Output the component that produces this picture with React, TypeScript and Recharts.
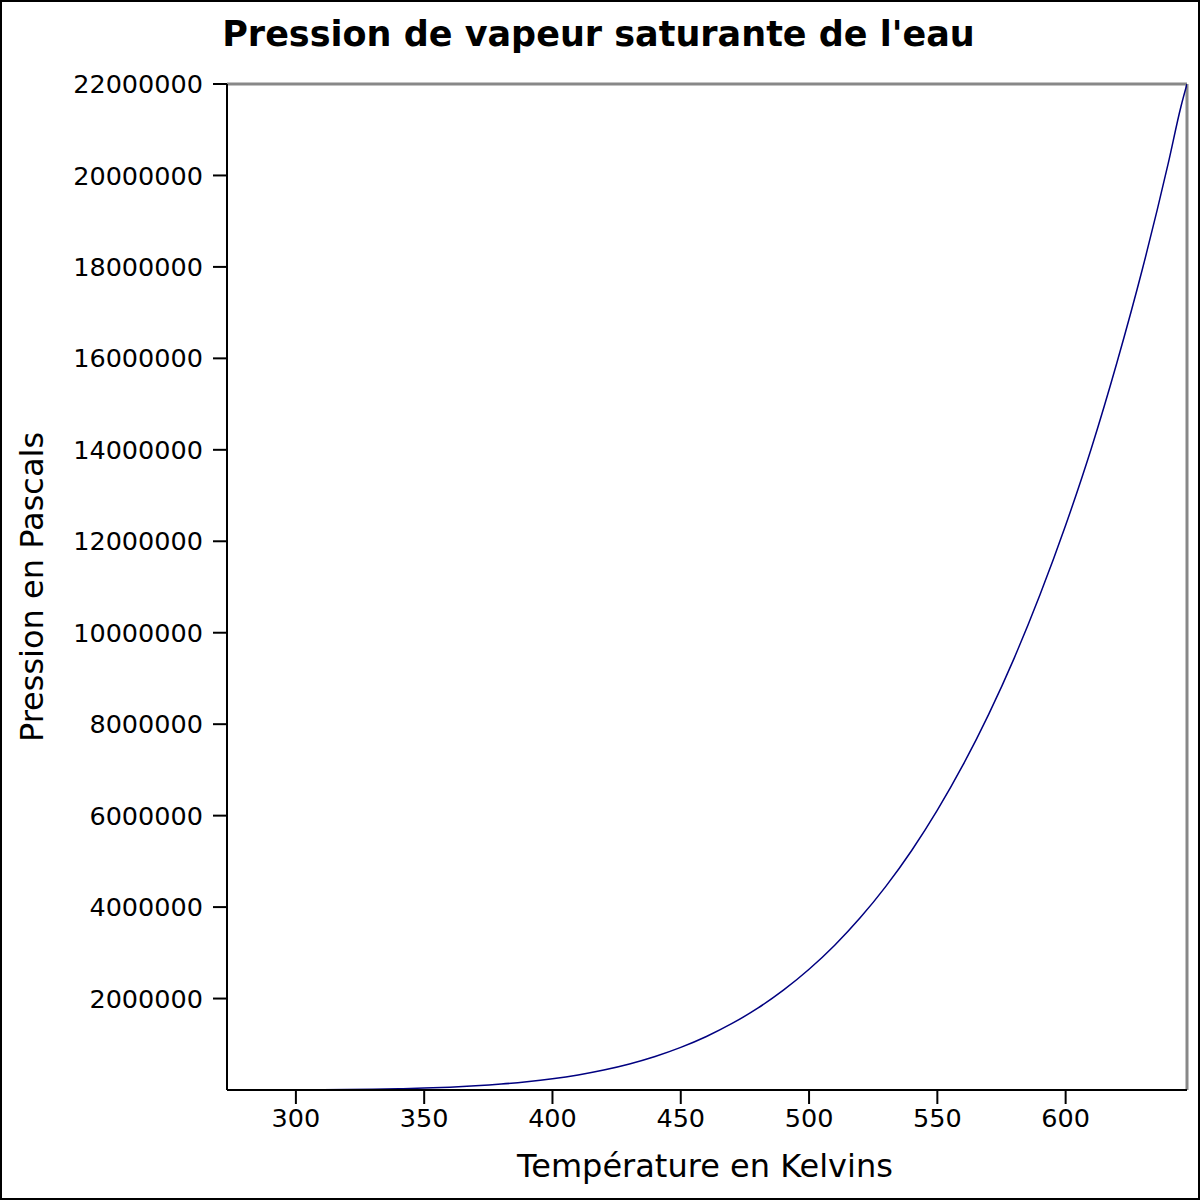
import * as React from "react"
import { LineChart, Line, XAxis, YAxis, ReferenceLine } from "recharts"

const FONT = "'DejaVu Sans', Verdana, sans-serif"

// température (K) et pression de vapeur saturante (Pa)
const temperatures = [
	273.16, 280, 290, 300, 310, 320, 330, 340, 350, 360, 370, 380, 390, 400, 410, 420, 430, 440,
	450, 460, 470, 480, 490, 500, 510, 520, 530, 540, 550, 560, 570, 580, 590, 600, 610, 620, 630,
	640, 645, 647.3,
]
const pressions = [
	612, 992, 1920, 3537, 6231, 10546, 17213, 27188, 41682, 62194, 90535, 128850, 179640, 245500,
	330200, 437000, 569900, 733300, 931900, 1171000, 1455000, 1790000, 2183000, 2640000, 3166000,
	3770000, 4458000, 5238000, 6119000, 7108000, 8216000, 9451000, 10830000, 12350000, 14030000,
	15910000, 17970000, 20270000, 21520000, 22000000,
]

const xTicks = [300, 350, 400, 450, 500, 550, 600]
const yTicks = [
	2000000, 4000000, 6000000, 8000000, 10000000, 12000000, 14000000, 16000000, 18000000,
	20000000, 22000000,
]

const data = temperatures.map((t, i) => ({ t, p: pressions[i] }))

export default function App() {
	return (
		<div style={{ position: "absolute", left: 0, top: 0, width: 1200, height: 1200, background: "#fff" }}>
			<LineChart
				width={1200}
				height={1200}
				data={data}
				margin={{ top: 84, right: 13, bottom: 0, left: 0 }}>
				<XAxis
					dataKey="t"
					type="number"
					domain={[273.15, 647.3]}
					ticks={xTicks}
					allowDataOverflow
					height={110}
					tickSize={14}
					tickMargin={5}
					stroke="#000"
					strokeWidth={2}
					tick={{ fontSize: 25.5, fill: "#000", fontFamily: FONT }}
					label={{
						content: () => (
							<text x={705} y={1177} textAnchor="middle" fontSize={32} fontFamily={FONT} fill="#000">
								Température en Kelvins
							</text>
						),
					}}
				/>
				<YAxis
					type="number"
					domain={[0, 22000000]}
					ticks={yTicks}
					allowDataOverflow
					width={227}
					tickSize={14}
					tickMargin={10}
					stroke="#000"
					strokeWidth={2}
					tick={{ fontSize: 25.5, fill: "#000", fontFamily: FONT }}
					label={{
						content: () => (
							<text
								x={43}
								y={587}
								transform="rotate(-90, 43, 587)"
								textAnchor="middle"
								fontSize={32}
								fontFamily={FONT}
								fill="#000">
								Pression en Pascals
							</text>
						),
					}}
				/>
				<ReferenceLine y={22000000} stroke="#888" strokeWidth={3} ifOverflow="visible" />
				<ReferenceLine x={647.3} stroke="#888" strokeWidth={3} ifOverflow="visible" />
				<Line
					type="monotone"
					dataKey="p"
					stroke="#000080"
					strokeWidth={1.5}
					dot={false}
					isAnimationActive={false}
				/>
			</LineChart>
			<div
				style={{
					position: "absolute",
					left: 0,
					top: 0,
					width: 1197,
					textAlign: "center",
					fontFamily: FONT,
					fontWeight: "bold",
					fontSize: 35,
					lineHeight: "68px",
				}}>
				Pression de vapeur saturante de l'eau
			</div>
			<div
				style={{
					position: "absolute",
					left: 0,
					top: 0,
					width: 1200,
					height: 1200,
					border: "2px solid #000",
					boxSizing: "border-box",
					pointerEvents: "none",
				}}
			/>
		</div>
	)
}
